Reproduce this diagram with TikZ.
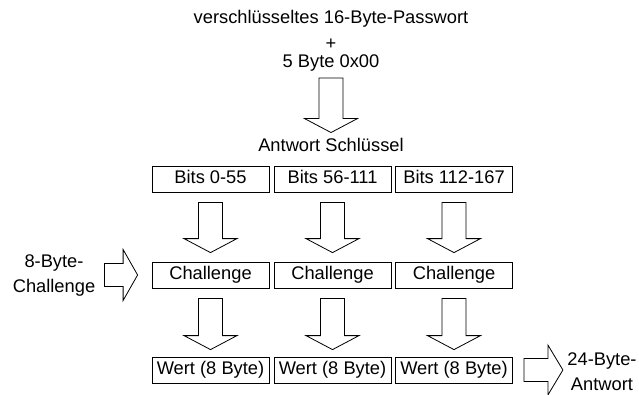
\documentclass[tikz,border=0pt]{standalone}
\usepackage{fontspec}
\setmainfont{Liberation Sans}
\usetikzlibrary{calc}
\tikzset{
  txt/.style={inner sep=0pt, font=\fontsize{18.3}{25}\selectfont},
  cell/.style={draw, line width=0.8pt, minimum width=117pt, minimum height=26pt, inner sep=0pt,
    text height=13pt, text depth=3.8pt, font=\fontsize{18.3}{21}\selectfont},
  blk/.style={draw, line width=0.8pt, fill=white, line join=miter}
}
% vertical block arrow: from node #1 (south) to node #2 (north); #3 gap at top, #4 gap at tip
\newcommand\blkdown[4]{%
  \draw[blk] let \p1=(#1.south), \p2=(#2.north) in
    (\x1-12pt,\y1-#3) -- (\x1+12pt,\y1-#3) -- (\x1+12pt,\y2+#4+14pt)
    -- (\x1+26.5pt,\y2+#4+14pt) -- (\x1,\y2+#4) -- (\x1-26.5pt,\y2+#4+14pt)
    -- (\x1-12pt,\y2+#4+14pt) -- cycle;}
% horizontal block arrow: from node #1 (east) to node #2 (west), at height of node #5
\newcommand\blkright[5]{%
  \draw[blk] let \p1=(#1.east), \p2=(#2.west), \p3=(#5.center) in
    (\x1+#3,\y3-11.5pt) -- (\x1+#3,\y3+11.5pt) -- (\x2-#4-14.5pt,\y3+11.5pt)
    -- (\x2-#4-14.5pt,\y3+25.5pt) -- (\x2-#4,\y3) -- (\x2-#4-14.5pt,\y3-25.5pt)
    -- (\x2-#4-14.5pt,\y3-11.5pt) -- cycle;}
\begin{document}
\begin{tikzpicture}[x=1pt,y=1pt]
\useasboundingbox (0,0) rectangle (639,394);
% top texts
\node[txt, anchor=base] (t1) at (331,370) {verschlüsseltes 16-Byte-Passwort};
\node[txt, anchor=base] (plus) at (331,344.5) {+};
\node[txt, anchor=base] (t3) at (331,326) {5 Byte 0x00};
\node[txt, anchor=base] (ak) at (331,242) {Antwort Schlüssel};
% boxes
\node[cell] (b1) at (210.5,215) {Bits 0-55};
\node[cell] (b2) at (332.5,215) {Bits 56-111};
\node[cell] (b3) at (454,215) {Bits 112-167};
\node[cell] (c1) at (210.5,119) {Challenge};
\node[cell] (c2) at (332.5,119) {Challenge};
\node[cell] (c3) at (454,119) {Challenge};
\node[cell] (w1) at (210.5,24) {Wert (8 Byte)};
\node[cell] (w2) at (332.5,24) {Wert (8 Byte)};
\node[cell] (w3) at (454,24) {Wert (8 Byte)};
% side texts
\node[txt, align=center] (lt) at (54,118) {8-Byte-\\Challenge};
\node[txt, align=center] (rt) at (602,22) {24-Byte-\\Antwort};
% arrows
\blkdown{t3}{ak}{6pt}{6pt}
\blkdown{b1}{c1}{10pt}{9pt}
\blkdown{b2}{c2}{10pt}{9pt}
\blkdown{b3}{c3}{10pt}{9pt}
\blkdown{c1}{w1}{10pt}{7pt}
\blkdown{c2}{w2}{10pt}{7pt}
\blkdown{c3}{w3}{10pt}{7pt}
\blkright{lt}{c1}{9pt}{14pt}{c1}
\draw[blk] let \p1=(w3.east), \p3=(w3.center) in
    (\x1+11pt,\y3-11.5pt) -- (\x1+11pt,\y3+11.5pt) -- (\x1+35pt,\y3+11.5pt)
    -- (\x1+35pt,\y3+25pt) -- (\x1+50pt,\y3) -- (\x1+35pt,\y3-25pt)
    -- (\x1+35pt,\y3-11.5pt) -- cycle;
\end{tikzpicture}
\end{document}
